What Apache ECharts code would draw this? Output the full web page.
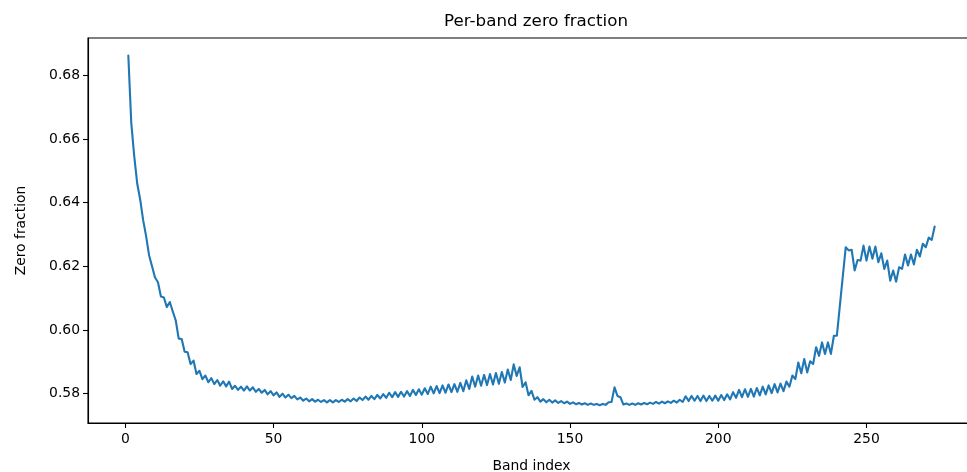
<!DOCTYPE html>
<html>
<head>
<meta charset="utf-8">
<script src="https://cdn.jsdelivr.net/npm/echarts@6/dist/echarts.min.js"></script>
<style>
  html, body { margin: 0; padding: 0; background: #fff; }
  #main { width: 967px; height: 472px; }
</style>
</head>
<body>
<div id="main"></div>
<script>
// zero fraction per band, bands start at 1
const firstBand = 1;
const zeroFraction = [
  0.6862, 0.6650, 0.6545, 0.6460, 0.6410, 0.6345, 0.6295, 0.6235, 0.6200, 0.6165,
  0.6150, 0.6105, 0.6102, 0.6072, 0.6088, 0.6058, 0.6030, 0.5973, 0.5972, 0.5932,
  0.5930, 0.5893, 0.5904, 0.5862, 0.5872, 0.5846, 0.5857, 0.5836, 0.5849, 0.5830,
  0.5843, 0.5825, 0.5839, 0.5823, 0.5838, 0.5815, 0.5825, 0.5812, 0.5822, 0.5810,
  0.5823, 0.5810, 0.5820, 0.5806, 0.5815, 0.5803, 0.5812, 0.5798, 0.5808, 0.5795,
  0.5804, 0.5790, 0.5800, 0.5788, 0.5797, 0.5786, 0.5793, 0.5782, 0.5788, 0.5778,
  0.5785, 0.5776, 0.5783, 0.5775, 0.5781, 0.5774, 0.5780, 0.5773, 0.5780, 0.5773,
  0.5780, 0.5774, 0.5781, 0.5775, 0.5783, 0.5776, 0.5785, 0.5777, 0.5788, 0.5780,
  0.5791, 0.5781, 0.5793, 0.5783, 0.5796, 0.5785, 0.5799, 0.5787, 0.5803, 0.5789,
  0.5805, 0.5790, 0.5806, 0.5791, 0.5808, 0.5793, 0.5812, 0.5796, 0.5814, 0.5797,
  0.5817, 0.5799, 0.5822, 0.5801, 0.5824, 0.5802, 0.5826, 0.5803, 0.5829, 0.5805,
  0.5830, 0.5806, 0.5834, 0.5808, 0.5842, 0.5815, 0.5854, 0.5822, 0.5857, 0.5825,
  0.5859, 0.5827, 0.5862, 0.5829, 0.5865, 0.5831, 0.5868, 0.5835, 0.5876, 0.5843,
  0.5892, 0.5856, 0.5883, 0.5821, 0.5836, 0.5795, 0.5809, 0.5781, 0.5789, 0.5775,
  0.5783, 0.5773, 0.5781, 0.5772, 0.5779, 0.5771, 0.5777, 0.5770, 0.5775, 0.5768,
  0.5773, 0.5767, 0.5771, 0.5766, 0.5770, 0.5765, 0.5769, 0.5765, 0.5768, 0.5764,
  0.5768, 0.5765, 0.5773, 0.5774, 0.5820, 0.5793, 0.5789, 0.5766, 0.5769, 0.5765,
  0.5769, 0.5765, 0.5770, 0.5766, 0.5771, 0.5767, 0.5772, 0.5768, 0.5774, 0.5769,
  0.5775, 0.5770, 0.5776, 0.5771, 0.5778, 0.5772, 0.5781, 0.5774, 0.5792, 0.5777,
  0.5793, 0.5778, 0.5793, 0.5777, 0.5794, 0.5777, 0.5793, 0.5778, 0.5794, 0.5778,
  0.5796, 0.5780, 0.5798, 0.5782, 0.5805, 0.5787, 0.5812, 0.5789, 0.5814, 0.5790,
  0.5815, 0.5791, 0.5818, 0.5795, 0.5822, 0.5798, 0.5826, 0.5802, 0.5830, 0.5804,
  0.5832, 0.5808, 0.5838, 0.5822, 0.5857, 0.5846, 0.5898, 0.5864, 0.5909, 0.5867,
  0.5902, 0.5893, 0.5946, 0.5919, 0.5961, 0.5925, 0.5961, 0.5925, 0.5982, 0.5982,
  0.6075, 0.6168, 0.6260, 0.6250, 0.6252, 0.6187, 0.6220, 0.6218, 0.6265, 0.6218,
  0.6262, 0.6224, 0.6262, 0.6213, 0.6241, 0.6192, 0.6218, 0.6155, 0.6187, 0.6152,
  0.6197, 0.6192, 0.6237, 0.6203, 0.6237, 0.6206, 0.6252, 0.6231, 0.6271, 0.6260,
  0.6290, 0.6283, 0.6325
];
const xTicks = [0, 50, 100, 150, 200, 250];
const yTicks = [0.58, 0.60, 0.62, 0.64, 0.66, 0.68];

const seriesData = zeroFraction.map((v, i) => [firstBand + i, v]);

const font = "DejaVu Sans";
const chart = echarts.init(document.getElementById("main"), null, { renderer: "canvas" });
const option = {
  animation: false,
  backgroundColor: "#fff",
  title: {
    text: "Per-band zero fraction",
    left: 531,
    top: 8,
    textAlign: "center",
    textStyle: { fontFamily: font, fontSize: 16.7, fontWeight: "normal", color: "#000" }
  },
  grid: {
    left: 88, top: 38, width: 887, height: 385,
    outerBoundsMode: "none",
    containLabel: false,
    show: true, borderColor: "#000", borderWidth: 1.1, backgroundColor: "transparent"
  },
  xAxis: {
    type: "value",
    min: -12.6,
    max: 286.6,
    name: "Band index",
    nameLocation: "middle",
    nameGap: 36,
    nameTextStyle: { fontFamily: font, fontSize: 13.9, color: "#000" },
    axisLine: { show: true, onZero: false, lineStyle: { color: "#000", width: 1.1 } },
    axisTick: { show: true, inside: false, length: 5, customValues: xTicks, lineStyle: { color: "#000", width: 1.1 } },
    axisLabel: { margin: 9, customValues: xTicks, fontFamily: font, fontSize: 13.9, color: "#000" },
    splitLine: { show: false }
  },
  yAxis: {
    type: "value",
    min: 0.5708,
    max: 0.6917,
    name: "Zero fraction",
    nameLocation: "middle",
    nameGap: 60,
    nameRotate: 90,
    nameTextStyle: { fontFamily: font, fontSize: 13.9, color: "#000" },
    axisLine: { show: true, onZero: false, lineStyle: { color: "#000", width: 1.1 } },
    axisTick: { show: true, inside: false, length: 5, customValues: yTicks, lineStyle: { color: "#000", width: 1.1 } },
    axisLabel: {
      margin: 8, customValues: yTicks, fontFamily: font, fontSize: 13.9, color: "#000",
      formatter: (v) => v.toFixed(2)
    },
    splitLine: { show: false }
  },
  series: [
    {
      type: "line",
      data: seriesData,
      showSymbol: false,
      symbol: "none",
      lineStyle: { color: "#1f77b4", width: 2.1, join: "round", cap: "round" }
    }
  ]
};
chart.setOption(option);
</script>
</body>
</html>
